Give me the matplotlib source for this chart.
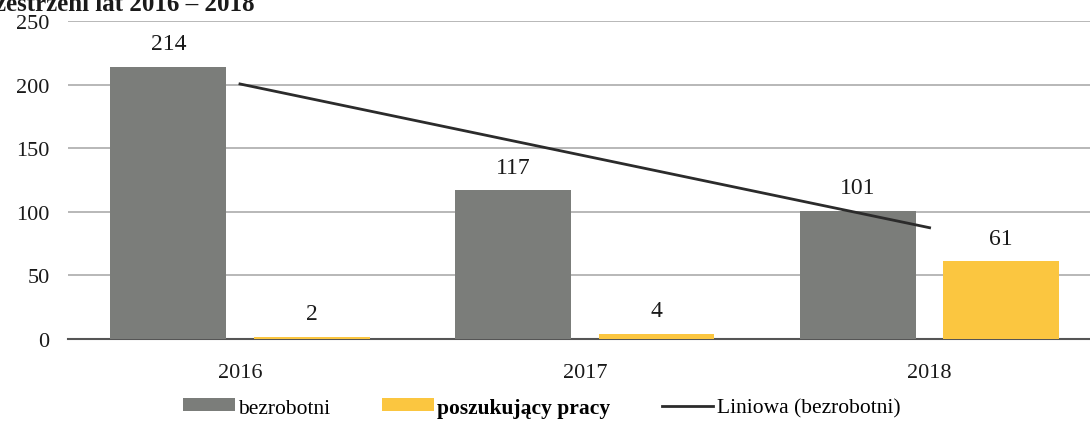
import numpy as np
import matplotlib.pyplot as plt

# dane
lata = ['2016', '2017', '2018']
bezrobotni = [214, 117, 101]
poszukujacy = [2, 4, 61]

plt.rcParams['font.family'] = ['Liberation Serif', 'DejaVu Serif']

fig = plt.figure(figsize=(10.9, 4.31), dpi=100)
ax = fig.add_axes([0.062, 0.211, 0.949, 0.738])

x = np.arange(len(lata))
w = 0.336
off = 0.208
kol_szary = '#7b7d7a'
kol_zolty = '#fbc640'

b1 = ax.bar(x - off, bezrobotni, w, color=kol_szary, label='bezrobotni', zorder=3)
b2 = ax.bar(x + off, poszukujacy, w, color=kol_zolty, label='poszukujący pracy', zorder=3)

# linia trendu dla bezrobotnych
a, b = np.polyfit(x, bezrobotni, 1)
xt = np.array([x[0], x[-1]])
tr, = ax.plot(xt, a * xt + b, color='#2b2b2b', lw=2, label='Liniowa (bezrobotni)', zorder=4)

for rects, vals in [(b1, bezrobotni), (b2, poszukujacy)]:
    for r, v in zip(rects, vals):
        ax.annotate(str(v), (r.get_x() + r.get_width() / 2, v),
                    xytext=(0, 9), textcoords='offset points',
                    ha='center', va='bottom', fontsize=17, color='#1a1a1a')

ax.set_xlim(-0.5, 2.5)
ax.set_ylim(0, 250)
ax.set_yticks([0, 50, 100, 150, 200, 250])
ax.set_xticks(x)
ax.set_xticklabels(lata)
ax.tick_params(axis='y', length=0, pad=13, labelsize=16, labelcolor='#1a1a1a')
ax.tick_params(axis='x', length=0, pad=17, labelsize=16, labelcolor='#1a1a1a')
ax.grid(axis='y', color='#ababab', lw=1.2, zorder=0)
for s in ['top', 'right', 'left']:
    ax.spines[s].set_visible(False)
ax.spines['bottom'].set_color('#555555')
ax.spines['bottom'].set_linewidth(1.5)

leg = fig.legend(handles=[b1, b2, tr], loc='center', bbox_to_anchor=(0.497, 0.052), ncol=3,
                 frameon=False, fontsize=15.5, handlelength=2.4, handleheight=0.55,
                 handletextpad=0.15, columnspacing=2.4)
for t in leg.get_texts():
    if t.get_text() == 'poszukujący pracy':
        t.set_fontweight('bold')

# fragment tytułu ucięty u góry
fig.text(255 / 1090, 1 - 11 / 431, 'przestrzeni lat 2016 – 2018', ha='right', va='baseline',
         fontsize=18, fontweight='bold', color='#1a1a1a')

fig.savefig('out.png', dpi=100)
